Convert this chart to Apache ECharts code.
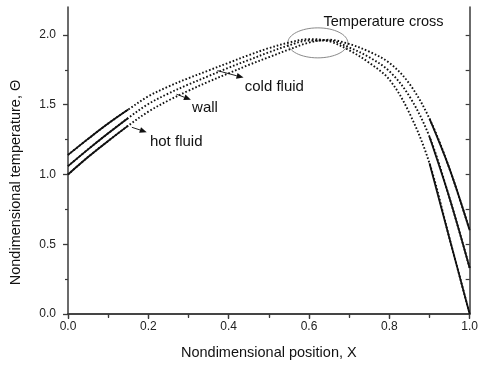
<!DOCTYPE html>
<html>
<head>
<meta charset="utf-8">
<script src="https://cdn.jsdelivr.net/npm/echarts@6/dist/echarts.min.js"></script>
<style>
html,body{margin:0;padding:0;background:#fff;}
#chart{width:481px;height:365px;}
</style>
</head>
<body>
<div id="chart"></div>
<script>
// ---- data ----
var xPos = [0, 0.05, 0.1, 0.15, 0.2, 0.25, 0.3, 0.35, 0.4, 0.45, 0.5, 0.55, 0.6, 0.65, 0.7, 0.75, 0.8, 0.85, 0.9, 0.95, 1.0];
var coldFluid = [1.14, 1.255, 1.365, 1.465, 1.56, 1.63, 1.69, 1.745, 1.80, 1.855, 1.905, 1.945, 1.97, 1.955, 1.89, 1.80, 1.68, 1.44, 1.08, 0.54, 0.0];
var wall      = [1.06, 1.18, 1.295, 1.405, 1.505, 1.58, 1.645, 1.705, 1.765, 1.82, 1.875, 1.925, 1.96, 1.96, 1.91, 1.84, 1.74, 1.56, 1.27, 0.83, 0.33];
var hotFluid  = [1.00, 1.125, 1.24, 1.35, 1.45, 1.53, 1.60, 1.665, 1.725, 1.785, 1.84, 1.895, 1.945, 1.965, 1.935, 1.88, 1.80, 1.65, 1.40, 1.04, 0.60];

var xTickLabels = [0, 0.2, 0.4, 0.6, 0.8, 1.0];
var yMajorTicks = [0, 0.5, 1.0, 1.5, 2.0];
var yMinorTicks = [0.25, 0.75, 1.25, 1.75];
var yRightTicks = [0.25, 0.5, 0.75, 1.0, 1.25, 1.5, 1.75, 2.0];

// annotations (data coordinates)
var curveLabels = ['hot fluid', 'wall', 'cold fluid'];
var labelAnchors = [[0.204, 1.233], [0.309, 1.477], [0.440, 1.627]];
var arrowFrom = [[0.159, 1.338], [0.270, 1.575], [0.372, 1.744]];
var arrowTo   = [[0.196, 1.303], [0.306, 1.535], [0.437, 1.694]];
var crossLabel = 'Temperature cross';
var crossLabelAnchor = [0.636, 2.093];
var crossCenter = [0.622, 1.943];

var FONT = '"Liberation Sans", Arial, sans-serif';
var AX = '#3a3a3a';
var LINE = '#111';

function pairs(ys, lo, hi) {
  var out = [];
  for (var i = 0; i < xPos.length; i++) {
    if (xPos[i] >= lo - 1e-9 && xPos[i] <= hi + 1e-9) out.push([xPos[i], ys[i]]);
  }
  return out;
}
function curveSeries(ys) {
  var base = {type: 'line', xAxisIndex: 0, yAxisIndex: 0, showSymbol: false, smooth: 0.35, silent: true, animation: false};
  return [
    Object.assign({}, base, {data: pairs(ys, 0, 1), lineStyle: {color: LINE, width: 1.9, type: [1.6, 2.0]}}),
    Object.assign({}, base, {data: pairs(ys, 0, 0.15), lineStyle: {color: LINE, width: 1.8}}),
    Object.assign({}, base, {data: pairs(ys, 0.9, 1.0), lineStyle: {color: LINE, width: 1.8}})
  ];
}

var chart = echarts.init(document.getElementById('chart'));
var series = [].concat(curveSeries(hotFluid), curveSeries(wall), curveSeries(coldFluid));

chart.setOption({
  animation: false,
  backgroundColor: '#fff',
  textStyle: {fontFamily: FONT},
  grid: {left: 67, right: 8, top: 7, bottom: 51, containLabel: false},
  xAxis: [
    {
      type: 'value', position: 'bottom', min: 0, max: 1, interval: 0.2,
      name: 'Nondimensional position, X', nameLocation: 'middle', nameGap: 31,
      nameTextStyle: {fontSize: 14.5, color: '#111', fontFamily: FONT},
      axisLine: {show: true, lineStyle: {color: AX, width: 1.5}},
      axisTick: {show: true, inside: false, length: 5, lineStyle: {color: AX, width: 1.3}},
      minorTick: {show: true, splitNumber: 2, length: 3, lineStyle: {color: AX, width: 1.2}},
      splitLine: {show: false},
      axisLabel: {show: true, margin: 7, fontSize: 12, color: '#222', fontFamily: FONT,
        customValues: xTickLabels,
        formatter: function (v) { return v.toFixed(1); }}
    },
    {
      type: 'value', position: 'top', min: 0, max: 1, interval: 0.1,
      axisLine: {show: true, lineStyle: {color: AX, width: 1.5}},
      axisTick: {show: true, inside: true, length: 4, lineStyle: {color: AX, width: 1.2}},
      axisLabel: {show: false}, splitLine: {show: false}
    }
  ],
  yAxis: [
    {
      type: 'value', position: 'left', min: 0, max: 2.2,
      name: 'Nondimensional temperature, \u0398', nameLocation: 'middle', nameGap: 45,
      nameTextStyle: {fontSize: 14.5, color: '#111', fontFamily: FONT, padding: [0, 44, 0, 0]},
      axisLine: {show: true, lineStyle: {color: AX, width: 1.5}},
      axisTick: {show: true, inside: false, length: 5, customValues: yMajorTicks, lineStyle: {color: AX, width: 1.3}},
      axisLabel: {show: true, margin: 12, fontSize: 12, color: '#222', fontFamily: FONT,
        customValues: yMajorTicks,
        formatter: function (v) { return v.toFixed(1); }},
      splitLine: {show: false}
    },
    {
      type: 'value', position: 'left', min: 0, max: 2.2,
      axisLine: {show: false},
      axisTick: {show: true, inside: false, length: 3, customValues: yMinorTicks, lineStyle: {color: AX, width: 1.2}},
      axisLabel: {show: false}, splitLine: {show: false}
    },
    {
      type: 'value', position: 'right', min: 0, max: 2.2,
      axisLine: {show: true, lineStyle: {color: AX, width: 1.5}},
      axisTick: {show: true, inside: true, length: 4, customValues: yRightTicks, lineStyle: {color: AX, width: 1.2}},
      axisLabel: {show: false}, splitLine: {show: false}
    }
  ],
  series: series
});

function px(p) { return chart.convertToPixel({xAxisIndex: 0, yAxisIndex: 0}, p); }

var g = [];
for (var i = 0; i < curveLabels.length; i++) {
  var a = px(arrowFrom[i]), b = px(arrowTo[i]);
  var dx = b[0] - a[0], dy = b[1] - a[1];
  var len = Math.sqrt(dx * dx + dy * dy);
  var ux = dx / len, uy = dy / len;
  var hl = 7, hw = 3;
  var bx = b[0] - ux * hl, by = b[1] - uy * hl;
  g.push({type: 'line', silent: true, shape: {x1: a[0], y1: a[1], x2: bx, y2: by}, style: {stroke: '#222', lineWidth: 1}});
  g.push({type: 'polygon', silent: true, shape: {points: [[b[0], b[1]], [bx - uy * hw, by + ux * hw], [bx + uy * hw, by - ux * hw]]}, style: {fill: '#111'}});
  var t = px(labelAnchors[i]);
  g.push({type: 'text', silent: true, x: t[0], y: t[1], style: {text: curveLabels[i], font: '15px ' + FONT, fill: '#111', textAlign: 'left', textVerticalAlign: 'middle'}});
}
var ct = px(crossLabelAnchor);
g.push({type: 'text', silent: true, x: ct[0], y: ct[1], style: {text: crossLabel, font: '14.5px ' + FONT, fill: '#111', textAlign: 'left', textVerticalAlign: 'middle'}});
var cc = px(crossCenter);
g.push({type: 'ellipse', silent: true, shape: {cx: cc[0], cy: cc[1], rx: 30, ry: 15}, style: {fill: 'none', stroke: '#8a8a8a', lineWidth: 1}});

chart.setOption({graphic: g});
</script>
</body>
</html>
